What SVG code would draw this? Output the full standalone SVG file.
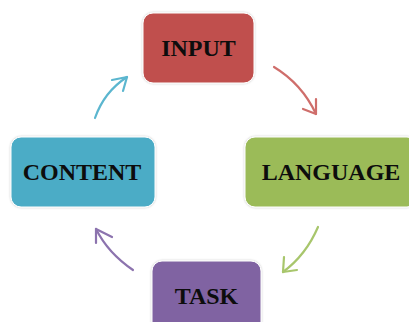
<svg xmlns="http://www.w3.org/2000/svg" width="409" height="322" viewBox="0 0 409 322">
<style>
.box{stroke:#ffffff;stroke-width:1;filter:url(#sh)}
.lbl{font-family:"Liberation Serif","Times New Roman",serif;font-weight:bold;font-size:24px;fill:#0d0d0d;text-anchor:middle}
.arr{fill:none;stroke-width:2.2;stroke-linecap:round;stroke-linejoin:round}
</style>
<defs>
<filter id="sh" x="-10%" y="-10%" width="120%" height="120%">
<feDropShadow dx="0" dy="0" stdDeviation="1" flood-color="#000" flood-opacity="0.25"/>
</filter>
</defs>
<rect width="409" height="322" fill="#ffffff"/>
<g id="connectors">
<g id="c-input-language" stroke="#CF6E6B" class="arr">
<path class="arr" stroke="#CF6E6B" d="M274,67 Q302,84 316,114"/>
<path class="arr" stroke="#CF6E6B" d="M316,99 L316,114 L303,109"/>
</g>
<g id="c-language-task">
<path class="arr" stroke="#A8C66C" d="M318,227 Q306,255 283,272"/>
<path class="arr" stroke="#A8C66C" d="M284,257 L283,272 L297,270"/>
</g>
<g id="c-task-content">
<path class="arr" stroke="#8C73AE" d="M133,270 Q108,253 96,229"/>
<path class="arr" stroke="#8C73AE" d="M112,237 L96,229 L96,243"/>
</g>
<g id="c-content-input">
<path class="arr" stroke="#5BB6CF" d="M95,118 Q104,92 127,77"/>
<path class="arr" stroke="#5BB6CF" d="M112,80 L127,77 L123,91"/>
</g>
</g>
<g id="node-input">
<rect class="box" x="143" y="13" width="111" height="70" rx="10" fill="#C0504D"/>
<text class="lbl" x="198.5" y="56">INPUT</text>
</g>
<g id="node-language">
<rect class="box" x="245" y="137" width="172" height="70" rx="10" fill="#9BBB59"/>
<text class="lbl" x="331" y="180">LANGUAGE</text>
</g>
<g id="node-task">
<rect class="box" x="152" y="261" width="109" height="75" rx="10" fill="#8064A2"/>
<text class="lbl" x="206.5" y="304">TASK</text>
</g>
<g id="node-content">
<rect class="box" x="11" y="137" width="144" height="70" rx="10" fill="#4BACC6"/>
<text class="lbl" x="82" y="180">CONTENT</text>
</g>
</svg>
